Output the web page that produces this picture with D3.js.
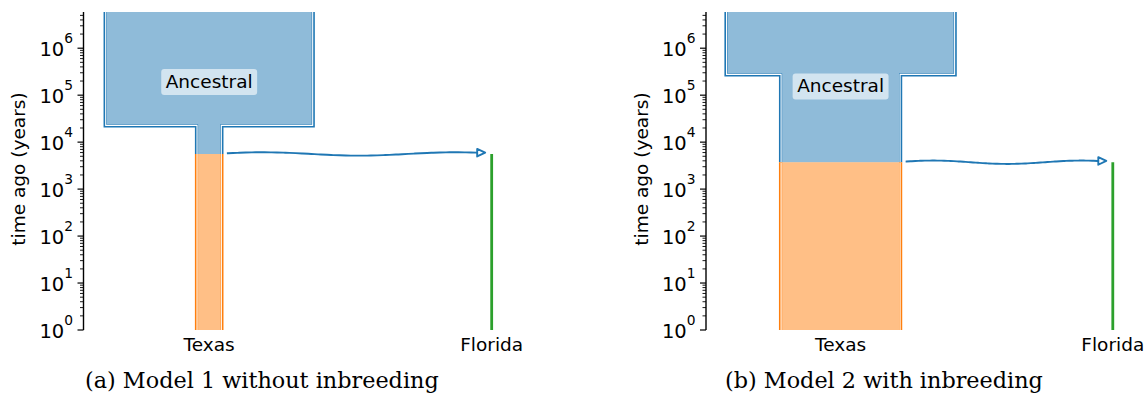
<!DOCTYPE html>
<html>
<head>
<meta charset="utf-8">
<script src="https://cdn.jsdelivr.net/npm/d3@7"></script>
<style>
  body { margin: 0; background: #fff; }
  text { font-family: "DejaVu Sans", sans-serif; fill: #000; }
</style>
</head>
<body>
<svg id="chart" width="1145" height="394"></svg>
<script>

/*********** DONNEES ***********/

const demeNames = ["Ancestral", "Texas", "Florida"];
const demeColors = ["#1f77b4", "#ff7f0e", "#2ca02c"];
const yExponents = [0, 1, 2, 3, 4, 5, 6];
const yMax = 5.9e6;
const xLabels = ["Texas", "Florida"];
const captions = ["(a) Model 1 without inbreeding", "(b) Model 2 with inbreeding"];

// epochs: [start time (years ago), end time, size]
// model 1, without inbreeding
const m1Ancestral = [[Infinity, 22100, 10000], [22100, 5600, 1220]];
const m1Texas = [[5600, 0, 1220]];
const m1Florida = [[5600, 0, 40]];
const m1Positions = [6040, 6040, 19615];
const m1XMax = 21000;
const m1LabelTime = 2.0e5;

// model 2, with inbreeding
const m2Ancestral = [[Infinity, 270000, 10000], [270000, 3730, 5240]];
const m2Texas = [[3730, 0, 5240]];
const m2Florida = [[3730, 0, 40]];
const m2Positions = [5873, 5873, 17751];
const m2XMax = 19200;
const m2LabelTime = 1.6e5;


/*********** MISE EN PAGE ***********/

const svg = d3.select("#chart");
const plotTop = 12, plotBottom = 330;
const fontSize = 18.5;

const panels = [
    { id: "a", axisX: 83.5, width: 437, xMax: m1XMax, positions: m1Positions,
      demes: [m1Ancestral, m1Texas, m1Florida], labelTime: m1LabelTime,
      caption: captions[0], captionX: 85, ylabelX: 18 },
    { id: "b", axisX: 706, width: 440, xMax: m2XMax, positions: m2Positions,
      demes: [m2Ancestral, m2Texas, m2Florida], labelTime: m2LabelTime,
      caption: captions[1], captionX: 725, ylabelX: 641 }
];

const y = d3.scaleLog().domain([1, yMax]).range([plotBottom, plotTop]);

function timeToY(t) {
    if (t === Infinity) return plotTop - 30;
    if (t <= 1) return y(1);
    return y(t);
}

function drawPanel(p) {
    let g = svg.append("g").attr("id", "panel-" + p.id);
    let x = d3.scaleLinear().domain([0, p.xMax]).range([p.axisX, p.axisX + p.width]);

    // zone de tracé
    let clipId = "plot-clip-" + p.id;
    svg.append("defs").append("clipPath").attr("id", clipId)
        .append("rect")
        .attr("x", p.axisX).attr("y", plotTop)
        .attr("width", p.width).attr("height", plotBottom - plotTop);

    let plot = g.append("g").attr("clip-path", "url(#" + clipId + ")");

    // dèmes
    p.demes.forEach(function (epochs, i) {
        let pos = p.positions[i];
        let color = demeColors[i];
        let left = [], right = [];
        for (const e of epochs) {
            left.push([x(pos - e[2] / 2), timeToY(e[0])]);
            left.push([x(pos - e[2] / 2), timeToY(e[1])]);
            right.push([x(pos + e[2] / 2), timeToY(e[0])]);
            right.push([x(pos + e[2] / 2), timeToY(e[1])]);
        }
        let pxWidth = x(epochs[0][2]) - x(0);

        if (pxWidth < 4) {
            // dème très petit : une simple ligne
            plot.append("path")
                .attr("d", d3.line()([[x(pos), timeToY(epochs[0][0])], [x(pos), timeToY(epochs[epochs.length - 1][1])]]))
                .attr("stroke", color)
                .attr("stroke-width", 2.8)
                .attr("fill", "none");
            return;
        }

        let poly = left.concat(right.slice().reverse());
        let polyD = d3.line()(poly) + "Z";

        plot.append("path")
            .attr("d", polyD)
            .attr("fill", color)
            .attr("fill-opacity", 0.5)
            .attr("stroke", "none");

        let innerId = "deme-clip-" + p.id + "-" + i;
        svg.select("defs").append("clipPath").attr("id", innerId)
            .append("path").attr("d", polyD);

        for (const side of [left, right]) {
            plot.append("path")
                .attr("d", d3.line()(side))
                .attr("fill", "none")
                .attr("stroke", color)
                .attr("stroke-width", 3.2);
            plot.append("g").attr("clip-path", "url(#" + innerId + ")")
                .append("path")
                .attr("d", d3.line()(side))
                .attr("fill", "none")
                .attr("stroke", "#fff")
                .attr("stroke-width", 2.2);
        }
    });

    // flèche d'ascendance Texas -> Florida
    let texas = p.demes[1][0];
    let florida = p.demes[2][0];
    let x0 = x(p.positions[1] + texas[2] / 2) + 5;
    let tipX = x(p.positions[2]) - 6.5;
    let x1 = tipX - 8;
    let y0 = timeToY(florida[0]);
    let wave = d3.range(0, 41).map(function (k) {
        let t = k / 40;
        return [x0 + t * (x1 - x0), y0 - 1.7 * Math.sin(2.6 * Math.PI * t + 0.4)];
    });
    g.append("path")
        .attr("d", d3.line().curve(d3.curveBasis)(wave))
        .attr("fill", "none")
        .attr("stroke", demeColors[0])
        .attr("stroke-width", 1.9);
    let by = wave[wave.length - 1][1];
    g.append("path")
        .attr("d", d3.line()([[x1, by - 3.8], [tipX, by], [x1, by + 3.8]]) + "Z")
        .attr("fill", "#fff")
        .attr("stroke", demeColors[0])
        .attr("stroke-width", 1.9)
        .attr("stroke-linejoin", "round");

    // étiquette "Ancestral"
    let lab = g.append("g");
    let labText = lab.append("text")
        .attr("x", x(p.positions[0]))
        .attr("y", y(p.labelTime))
        .attr("text-anchor", "middle")
        .attr("dominant-baseline", "central")
        .attr("font-size", fontSize)
        .text(demeNames[0]);
    let bb = labText.node().getBBox();
    lab.insert("rect", "text")
        .attr("x", bb.x - 4.5)
        .attr("y", bb.y - 1.5)
        .attr("width", bb.width + 9)
        .attr("height", bb.height + 5)
        .attr("rx", 3)
        .attr("fill", "#fff")
        .attr("fill-opacity", 0.6);

    // axe des y
    let ax = g.append("g");
    ax.append("line")
        .attr("x1", p.axisX).attr("x2", p.axisX)
        .attr("y1", plotTop).attr("y2", plotBottom)
        .attr("stroke", "#000").attr("stroke-width", 1.4);

    let minor = [];
    for (const k of yExponents) {
        for (let m = 2; m < 10; m++) {
            let v = m * Math.pow(10, k);
            if (v <= yMax) minor.push(v);
        }
    }
    ax.selectAll(".minor").data(minor).enter().append("line")
        .attr("x1", p.axisX - 3.5).attr("x2", p.axisX)
        .attr("y1", function (d) { return y(d); })
        .attr("y2", function (d) { return y(d); })
        .attr("stroke", "#000").attr("stroke-width", 0.9);

    ax.selectAll(".major").data(yExponents).enter().append("line")
        .attr("x1", p.axisX - 6).attr("x2", p.axisX)
        .attr("y1", function (d) { return y(Math.pow(10, d)); })
        .attr("y2", function (d) { return y(Math.pow(10, d)); })
        .attr("stroke", "#000").attr("stroke-width", 1.2);

    let tl = ax.selectAll(".ticklabel").data(yExponents).enter().append("text")
        .attr("x", p.axisX - 10.5)
        .attr("y", function (d) { return y(Math.pow(10, d)) + 7.8; })
        .attr("text-anchor", "end")
        .attr("font-size", 19.5);
    tl.append("tspan").text("10");
    tl.append("tspan")
        .attr("dy", -12.8)
        .attr("font-size", 13.8)
        .text(function (d) { return d; });

    g.append("text")
        .attr("transform", "translate(" + p.ylabelX + "," + 169 + ") rotate(-90)")
        .attr("text-anchor", "middle")
        .attr("dominant-baseline", "central")
        .attr("font-size", fontSize)
        .text("time ago (years)");

    // étiquettes des x
    g.selectAll(".xlabel").data(xLabels).enter().append("text")
        .attr("x", function (d) { return x(p.positions[demeNames.indexOf(d)]); })
        .attr("y", 351)
        .attr("text-anchor", "middle")
        .attr("font-size", fontSize)
        .text(function (d) { return d; });

    // légende sous la figure
    g.append("text")
        .attr("class", "caption")
        .attr("x", p.captionX)
        .attr("y", 388)
        .style("font-family", "'DejaVu Serif', serif")
        .attr("font-size", 19)
        .text(p.caption);
}

panels.forEach(drawPanel);

// ajuste la taille de la légende à la largeur mesurée sur la figure (b)
let caps = svg.selectAll(".caption");
let wB = caps.nodes()[1].getComputedTextLength();
caps.attr("font-size", 19 * 318 / wB);

</script>
</body>
</html>
